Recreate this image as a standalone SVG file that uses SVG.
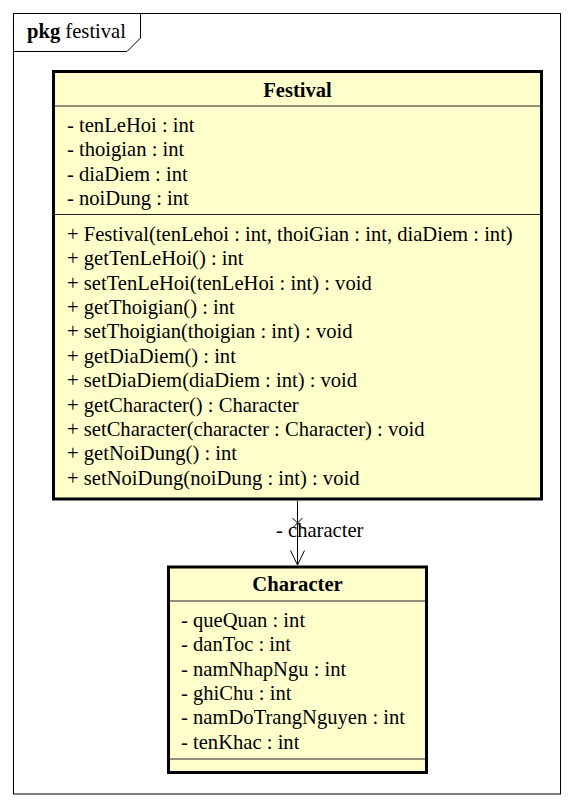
<svg xmlns="http://www.w3.org/2000/svg" width="574" height="808" viewBox="0 0 574 808">
<style>
text{font-family:'Liberation Serif','Times New Roman','DejaVu Serif',serif;font-size:20.6px;fill:#000}
.b{font-weight:bold}
.box{fill:#ffffcc;stroke:#000;stroke-width:3}
.sep{stroke:#222;stroke-width:1.2;fill:none}
.frame{fill:#fff;stroke:#000;stroke-width:1}
.ln{stroke:#000;stroke-width:1;fill:none}
</style>
<rect width="574" height="808" fill="#fff"/>
<g id="pkg">
<rect class="frame" x="13.5" y="13.5" width="547" height="780.5"/>
<path class="ln" d="M13.5,51.5 H127 L140.5,38 V13.5"/>
<text x="27" y="38.3"><tspan class="b">pkg</tspan> festival</text>
</g>
<g id="Festival">
<rect class="box" x="53.5" y="71.5" width="488" height="427.5"/>
<line class="sep" x1="55" y1="106" x2="540" y2="106"/>
<line class="sep" x1="55" y1="214.5" x2="540" y2="214.5"/>
<text class="b" x="297.5" y="96.7" text-anchor="middle">Festival</text>
<text x="67" y="131.7">- tenLeHoi : int</text>
<text x="67" y="156.1">- thoigian : int</text>
<text x="67" y="180.5">- diaDiem : int</text>
<text x="67" y="204.9">- noiDung : int</text>
<text x="67" y="240.7">+ Festival(tenLehoi : int, thoiGian : int, diaDiem : int)</text>
<text x="67" y="265.1">+ getTenLeHoi() : int</text>
<text x="67" y="289.5">+ setTenLeHoi(tenLeHoi : int) : void</text>
<text x="67" y="313.9">+ getThoigian() : int</text>
<text x="67" y="338.3">+ setThoigian(thoigian : int) : void</text>
<text x="67" y="362.7">+ getDiaDiem() : int</text>
<text x="67" y="387.1">+ setDiaDiem(diaDiem : int) : void</text>
<text x="67" y="411.5">+ getCharacter() : Character</text>
<text x="67" y="435.9">+ setCharacter(character : Character) : void</text>
<text x="67" y="460.3">+ getNoiDung() : int</text>
<text x="67" y="484.7">+ setNoiDung(noiDung : int) : void</text>
</g>
<g id="Character">
<rect class="box" x="168.5" y="567" width="258" height="205.5"/>
<line class="sep" x1="170" y1="601" x2="425" y2="601"/>
<line class="sep" x1="170" y1="759" x2="425" y2="759"/>
<text class="b" x="297.5" y="591" text-anchor="middle">Character</text>
<text x="181" y="626.7">- queQuan : int</text>
<text x="181" y="651.1">- danToc : int</text>
<text x="181" y="675.5">- namNhapNgu : int</text>
<text x="181" y="699.9">- ghiChu : int</text>
<text x="181" y="724.3">- namDoTrangNguyen : int</text>
<text x="181" y="748.7">- tenKhac : int</text>
</g>
<g id="connectors">
<line class="ln" x1="297.5" y1="501" x2="297.5" y2="565"/>
<path class="ln" d="M290.5,550.5 L297.5,565 L304.5,550.5"/>
<path class="ln" d="M292.5,518 L302.5,528 M302.5,518 L292.5,528"/>
<text x="276" y="536.7">- character</text>
</g>
</svg>
